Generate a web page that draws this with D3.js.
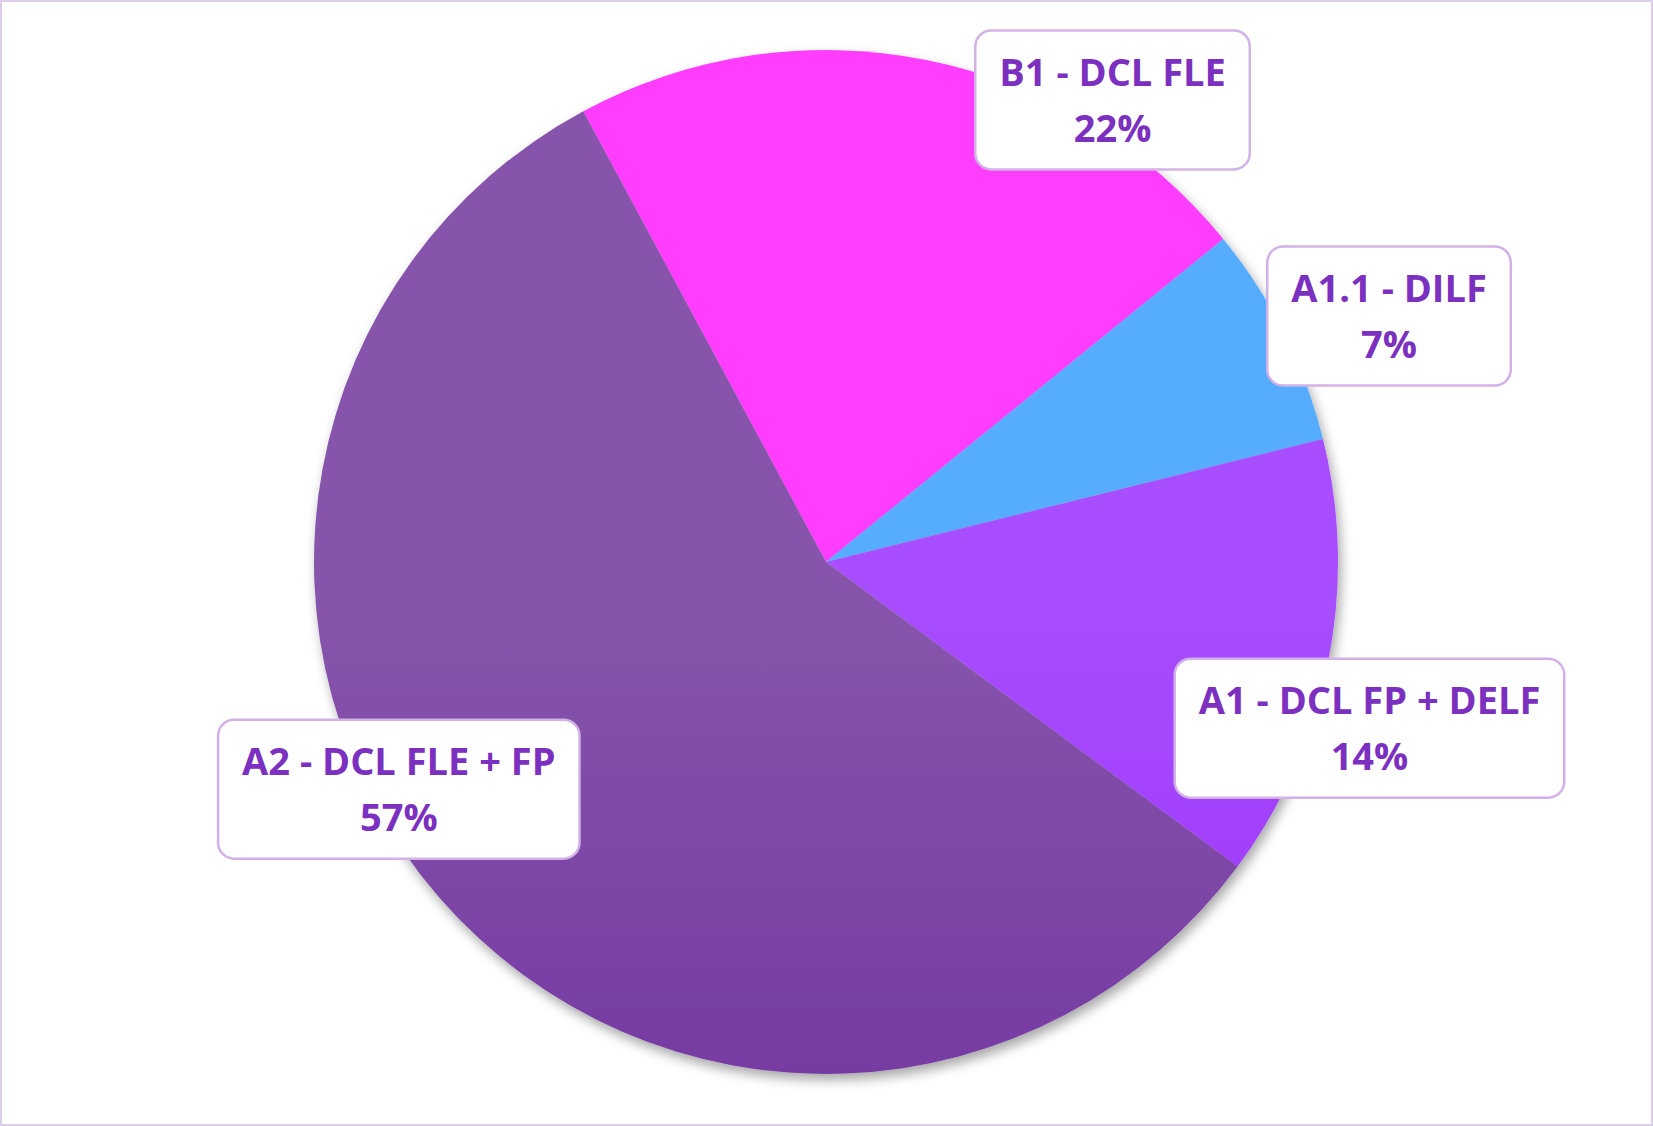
<!DOCTYPE html>
<html><head><meta charset="utf-8">
<script src="https://cdn.jsdelivr.net/npm/d3@7"></script>
<style>body{margin:0;background:#fff}svg{display:block}</style>
</head><body><svg id="c" width="1653" height="1126"></svg>
<script>
const categories = ["B1 - DCL FLE", "A1.1 - DILF", "A1 - DCL FP + DELF", "A2 - DCL FLE + FP"];
const values = [22, 7, 14, 57];
const pctLabels = ["22%", "7%", "14%", "57%"];
const gradTop = ["#FF3DFF", "#57ADFF", "#A84DFF", "#8655AB"];
const gradBot = ["#E600DC", "#2D8EE6", "#8C18F0", "#641C99"];
// label anchor: angle (deg, clockwise from north) and radius factor
const labelAngle = [31.8, 66.4, 107, 242];
const labelRad = [1.062, 1.2, 1.11, 0.945];

const svg = d3.select("#c");
const W = 1653, H = 1126, cx = 826, cy = 562, R = 512;
svg.append("rect").attr("x",1).attr("y",1).attr("width",W-2).attr("height",H-2)
  .attr("fill","#fff").attr("stroke","#DCCDEB").attr("stroke-width",2);
const defs = svg.append("defs");
const f = defs.append("filter").attr("id","sh").attr("x","-20%").attr("y","-20%").attr("width","140%").attr("height","140%");
f.append("feDropShadow").attr("dx",3).attr("dy",6).attr("stdDeviation",6).attr("flood-color","#000").attr("flood-opacity",0.35);
values.forEach((v,i)=>{
  const g = defs.append("linearGradient").attr("id","g"+i).attr("gradientUnits","userSpaceOnUse")
    .attr("x1",0).attr("y1",cy-R).attr("x2",0).attr("y2",cy+R);
  g.append("stop").attr("offset","0%").attr("stop-color",gradTop[i]);
  g.append("stop").attr("offset","100%").attr("stop-color",gradBot[i]);
});
const pie = d3.pie().sort(null).startAngle(-28.3*Math.PI/180).endAngle(2*Math.PI-28.3*Math.PI/180);
const arcs = pie(values);
const arc = d3.arc().innerRadius(0).outerRadius(R);
const g = svg.append("g").attr("transform",`translate(${cx},${cy})`);
g.append("g").attr("filter","url(#sh)").selectAll("path").data(arcs).join("path")
  .attr("d",arc).attr("fill",(d,i)=>`url(#g${i})`);
const fs = 38;
arcs.forEach((d,i)=>{
  const a = labelAngle[i]*Math.PI/180, r = labelRad[i]*R;
  const x = Math.sin(a)*r, y = -Math.cos(a)*r;
  const lg = g.append("g").attr("transform",`translate(${x},${y})`);
  const rect = lg.append("rect");
  const t = lg.append("text").attr("text-anchor","middle").attr("font-family","'Open Sans', sans-serif")
    .attr("font-weight","bold").attr("font-size",fs).attr("fill","#7B30BF");
  t.append("tspan").attr("x",0).attr("y",-14).text(categories[i]);
  t.append("tspan").attr("x",0).attr("y",42).text(pctLabels[i]);
  const bw = t.node().getBBox().width + 48, bh = 139;
  rect.attr("x",-bw/2).attr("y",-bh/2).attr("width",bw).attr("height",bh).attr("rx",16)
    .attr("fill","#fff").attr("stroke","#D2B2E6").attr("stroke-width",2.5);
});
</script></body></html>
